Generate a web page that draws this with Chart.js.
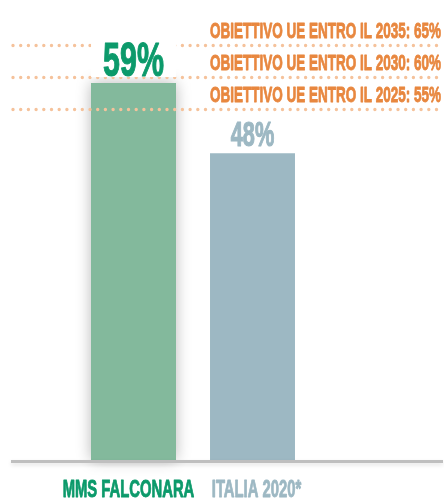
<!DOCTYPE html>
<html>
<head>
<meta charset="utf-8">
<script src="https://cdn.jsdelivr.net/npm/chart.js@4"></script>
<style>
  html, body { margin: 0; padding: 0; background: #fff; }
  #wrap { width: 444px; height: 500px; }
</style>
</head>
<body>
<div id="wrap"><canvas id="c" width="444" height="500"></canvas></div>
<script>
// ---- data ----
const categories = ['MMS FALCONARA', 'ITALIA 2020*'];
const values = [59, 48];
const valueLabels = ['59%', '48%'];
const targetValues = [65, 60, 55];
const targetLabels = [
  'OBIETTIVO UE ENTRO IL 2035: 65%',
  'OBIETTIVO UE ENTRO IL 2030: 60%',
  'OBIETTIVO UE ENTRO IL 2025: 55%'
];

// ---- styles ----
const barColors = ['#83b99c', '#9db8c3'];
const labelColors = ['#0c9a6b', '#9db8c3'];
const orange = '#e8873f';
const dotColor = '#f5c29b';
const FONT = '"Liberation Sans", Arial, sans-serif';

function condensedText(ctx, text, x, y, align, size, color, sx, stroke) {
  ctx.save();
  ctx.font = 'bold ' + size + 'px ' + FONT;
  ctx.fillStyle = color;
  ctx.strokeStyle = color;
  ctx.lineJoin = 'round';
  ctx.textBaseline = 'alphabetic';
  ctx.textAlign = align;
  ctx.translate(x, y);
  ctx.scale(sx, 1);
  ctx.fillText(text, 0, 0);
  if (stroke) { ctx.lineWidth = stroke; ctx.strokeText(text, 0, 0); }
  ctx.restore();
}

const decor = {
  id: 'decor',
  beforeDatasetsDraw(chart) {
    const ctx = chart.ctx;
    const meta = chart.getDatasetMeta(0);
    const el = meta.data[0];
    const w = el.width;
    ctx.save();
    ctx.shadowColor = 'rgba(0,0,0,0.28)';
    ctx.shadowBlur = 14;
    ctx.fillStyle = barColors[0];
    ctx.fillRect(el.x - w / 2, el.y, w, el.base - el.y);
    ctx.restore();
  },
  afterDatasetsDraw(chart) {
    const ctx = chart.ctx;
    const ys = chart.scales.y;
    const meta = chart.getDatasetMeta(0);

    // dotted target lines
    ctx.save();
    ctx.strokeStyle = dotColor;
    ctx.lineWidth = 3.4;
    ctx.lineCap = 'round';
    ctx.setLineDash([0, 7.7]);
    targetValues.forEach(v => {
      const y = Math.round(ys.getPixelForValue(v)) + 0.5;
      ctx.beginPath();
      ctx.moveTo(13, y);
      ctx.lineTo(441, y);
      ctx.stroke();
    });
    ctx.restore();

    // white mask behind the first value label
    const el0 = meta.data[0];
    ctx.save();
    ctx.fillStyle = '#fff';
    ctx.fillRect(el0.x - el0.width / 2, el0.y - 44, el0.width, 38);
    ctx.restore();

    // baseline
    const y0 = ys.getPixelForValue(0);
    ctx.save();
    ctx.shadowColor = 'rgba(0,0,0,0.12)';
    ctx.shadowBlur = 4;
    ctx.shadowOffsetY = 2;
    ctx.fillStyle = '#bfbfbf';
    ctx.fillRect(11, y0, 432, 3);
    ctx.restore();

    // target labels
    targetValues.forEach((v, i) => {
      const y = ys.getPixelForValue(v);
      condensedText(ctx, targetLabels[i], 441, y - 7, 'right', 22.5, orange, 0.6, 0.9);
    });

    // value labels
    const sizes = [49, 35];
    meta.data.forEach((el, i) => {
      condensedText(ctx, valueLabels[i], el.x, el.y - 7, 'center', sizes[i], labelColors[i], 0.62, 1.2);
    });

    // category labels
    const offs = [-5, 4];
    categories.forEach((c, i) => {
      const x = chart.scales.x.getPixelForValue(i);
      condensedText(ctx, c, x + offs[i], y0 + 37, 'center', 23.5, labelColors[i], 0.63, 0.9);
    });
  }
};

new Chart(document.getElementById('c'), {
  type: 'bar',
  data: {
    labels: categories,
    datasets: [{
      data: values,
      backgroundColor: barColors,
      borderWidth: 0,
      barPercentage: 0.714,
      categoryPercentage: 1
    }]
  },
  options: {
    responsive: false,
    animation: false,
    layout: { padding: { left: 74, right: 132, top: 0, bottom: 40 } },
    plugins: { legend: { display: false }, tooltip: { enabled: false } },
    scales: {
      x: { display: false },
      y: { display: false, min: 0, max: 72 }
    }
  },
  plugins: [decor]
});
</script>
</body>
</html>
